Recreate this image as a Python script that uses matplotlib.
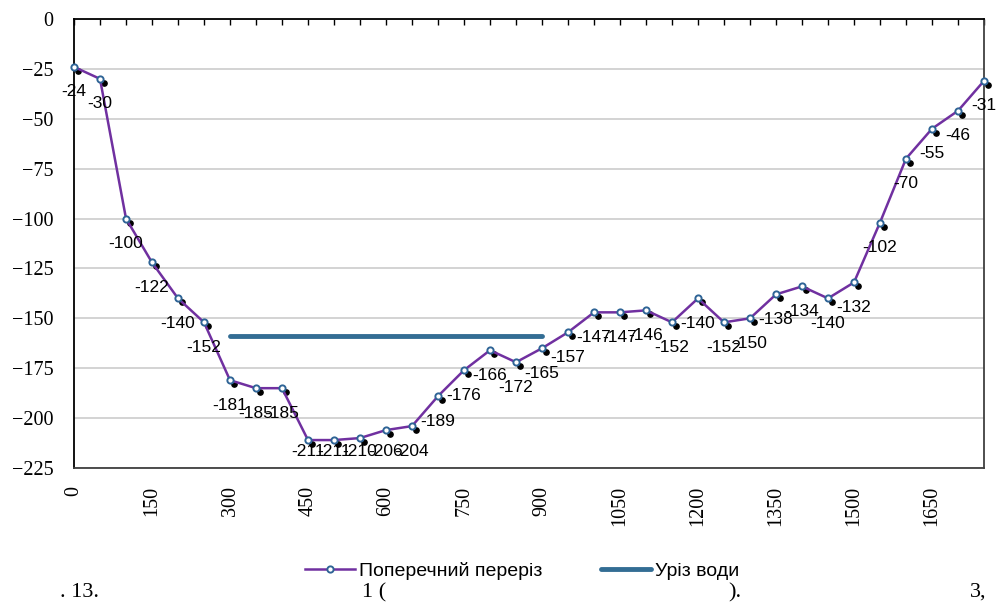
import matplotlib
matplotlib.use("Agg")
import matplotlib.pyplot as plt
import matplotlib.transforms as mtransforms

# station distance along the section, m
distance = list(range(0, 1751, 50))
# bed depth at each station
depth = [-24, -30, -100, -122, -140, -152, -181, -185, -185, -211, -211, -210,
         -206, -204, -189, -176, -166, -172, -165, -157, -147, -147, -146, -152,
         -140, -152, -150, -138, -134, -140, -132, -102, -70, -55, -46, -31]
# water edge line
water_x = [300, 900]
water_y = [-159, -159]

y_ticks = list(range(0, -226, -25))
x_ticks = list(range(0, 1751, 150))

purple = "#7030A0"
blue = "#336D94"

fig = plt.figure(figsize=(10.02, 6.03), dpi=100)
ax = fig.add_axes([74 / 1002, 1 - 468 / 603, 910 / 1002, 449 / 603])

ax.set_xlim(0, 1750)
ax.set_ylim(-225, 0)
ax.set_yticks(y_ticks)
ax.set_xticks(x_ticks)
ax.set_xticks(distance, minor=True)
ax.grid(axis="y", color="#D0D0D0", linewidth=1.3)
ax.set_axisbelow(True)

# shadow dots slightly down-right of each marker
shadow = mtransforms.offset_copy(ax.transData, fig=fig, x=4, y=-4, units="dots")
ax.plot(distance, depth, "o", color="black", markersize=3.8, transform=shadow,
        zorder=2, clip_on=False)

ax.plot(distance, depth, color=purple, linewidth=1.8, marker="o", markersize=4.5,
        markerfacecolor="white", markeredgecolor="#2F6496", markeredgewidth=1.4,
        label="Поперечний переріз", zorder=3, clip_on=False)
ax.plot(water_x, water_y, color=blue, linewidth=3.5, solid_capstyle="round",
        label="Уріз води", zorder=3)

for x, v in zip(distance, depth):
    ly = max(v - 12.5, -216.5)
    ax.annotate(str(v), (x, ly), ha="center", va="center", fontsize=12.5,
                family="Liberation Sans", color="black", annotation_clip=False,
                zorder=4)

for s in ["left", "top"]:
    ax.spines[s].set_color("black")
    ax.spines[s].set_linewidth(1.3)
for s in ["right", "bottom"]:
    ax.spines[s].set_color("#404040")
    ax.spines[s].set_linewidth(1.3)

ax.tick_params(axis="x", which="both", top=True, bottom=False, labeltop=False,
               labelbottom=True, direction="in", length=4.5, width=1, pad=13)
ax.tick_params(axis="y", length=0, pad=15)
for lab in ax.get_xticklabels():
    lab.set_rotation(90)
    lab.set_family("Liberation Serif")
    lab.set_fontsize(14.5)
for lab in ax.get_yticklabels():
    lab.set_family("Liberation Serif")
    lab.set_fontsize(14.5)

fig.legend(loc="center", bbox_to_anchor=(522 / 1002, 1 - 571 / 603), ncol=2,
           frameon=False, prop={"family": "Liberation Sans", "size": 14},
           handlelength=2.6, handletextpad=0.2, columnspacing=3.0,
           borderpad=0, borderaxespad=0)

cap = {"family": "Liberation Serif", "size": 16, "va": "baseline"}
fig.text(60 / 1002, 1 - 597 / 603, ". 13.", **cap)
fig.text(362 / 1002, 1 - 597 / 603, "1 (", **cap)
fig.text(728 / 1002, 1 - 597 / 603, ").", **cap)
fig.text(970 / 1002, 1 - 597 / 603, "3,", **cap)

fig.savefig("out.png", dpi=100)
